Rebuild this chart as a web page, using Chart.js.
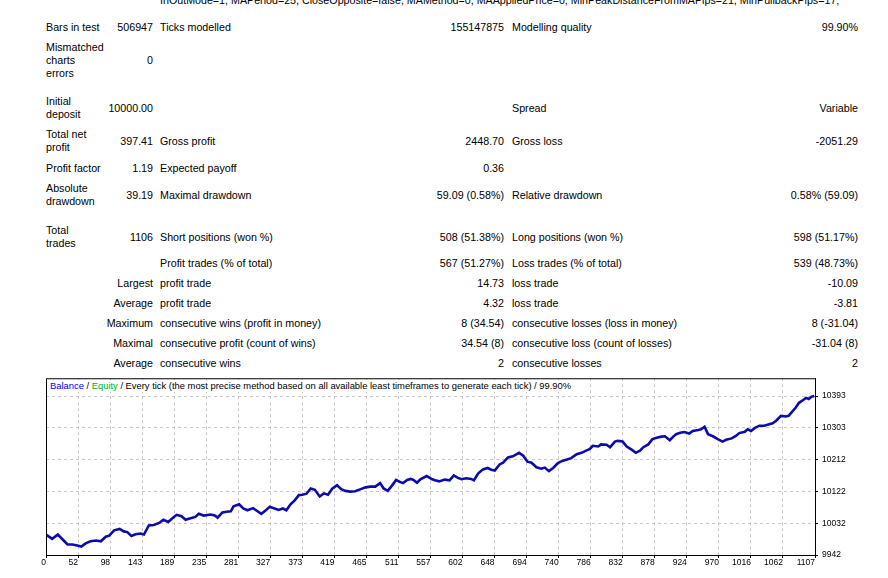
<!DOCTYPE html>
<html>
<head>
<meta charset="utf-8">
<script src="https://cdn.jsdelivr.net/npm/chart.js@4.4.1/dist/chart.umd.min.js"></script>
<style>
  html, body { margin: 0; padding: 0; background: #fff; }
  #page { position: relative; width: 888px; height: 578px; overflow: hidden;
          font-family: "Liberation Sans", Arial, sans-serif; font-size: 10.7px; color: #000; }
  .t { position: absolute; line-height: 13px; white-space: nowrap; }
  #chartBox { position: absolute; left: 0; top: 370px; width: 888px; height: 208px; }
  #caption { position: absolute; left: 49px; top: 380px; font-size: 9.4px; line-height: 12px;
             background: #fff; padding: 0 2px 0 1px; white-space: nowrap; z-index: 2; }
</style>
</head>
<body>
<div id="page">
  <div id="chartBox"><canvas id="balanceChart" width="888" height="208"></canvas></div>
  <div id="caption"><span style="color:#0000ff">Balance</span> / <span style="color:#00b000">Equity</span> / Every tick (the most precise method based on all available least timeframes to generate each tick) / 99.90%</div>
</div>
<script>
// balance curve (trade number -> balance)
const tradeNo = [
  0, 9, 17, 24, 31, 38, 45, 51, 57, 64, 72, 79, 86, 91, 98, 106, 112, 117, 123, 129,
  136, 141, 148, 155, 163, 169, 176, 182, 188, 195, 201, 208, 215, 220, 227, 237, 243, 247, 254, 260,
  266, 270, 278, 284, 290, 298, 304, 310, 316, 322, 328, 335, 341, 346, 352, 358, 364, 369, 375, 381,
  387, 394, 400, 406, 412, 419, 425, 431, 438, 445, 453, 460, 467, 474, 481, 486, 492, 498, 504, 510,
  514, 520, 525, 529, 534, 539, 548, 556, 560, 566, 574, 581, 587, 593, 598, 605, 612, 616, 622, 629,
  636, 641, 646, 653, 658, 665, 672, 681, 687, 693, 699, 706, 713, 718, 724, 730, 737, 743, 750, 756,
  764, 771, 776, 783, 787, 795, 799, 807, 812, 819, 823, 830, 836, 843, 849, 855, 860, 867, 873, 879,
  886, 891, 898, 903, 907, 913, 919, 926, 931, 939, 943, 948, 953, 960, 967, 974, 979, 987, 993, 998,
  1006, 1010, 1015, 1020, 1027, 1034, 1041, 1046, 1051, 1058, 1065, 1069, 1073, 1079, 1084, 1090, 1094, 1098, 1102, 1106
];
const balance = [
  10000, 9988, 10000, 9986, 9972, 9972, 9969, 9966, 9975, 9981, 9983, 9981, 9994, 9997, 10012, 10016, 10009, 10007, 9996, 10001,
  10003, 10000, 10026, 10027, 10033, 10042, 10036, 10046, 10056, 10052, 10042, 10046, 10050, 10059, 10054, 10057, 10054, 10048, 10063, 10065,
  10066, 10080, 10086, 10074, 10069, 10075, 10067, 10059, 10068, 10079, 10075, 10070, 10074, 10069, 10086, 10097, 10112, 10113, 10116, 10131,
  10127, 10108, 10117, 10113, 10130, 10140, 10129, 10124, 10122, 10123, 10129, 10134, 10136, 10136, 10146, 10131, 10124, 10139, 10155, 10149,
  10146, 10155, 10158, 10155, 10147, 10157, 10166, 10157, 10154, 10151, 10156, 10154, 10168, 10161, 10157, 10160, 10158, 10154, 10173, 10185,
  10189, 10184, 10182, 10199, 10204, 10219, 10222, 10232, 10224, 10207, 10204, 10191, 10187, 10190, 10180, 10189, 10203, 10209, 10213, 10217,
  10228, 10232, 10237, 10243, 10252, 10250, 10256, 10255, 10248, 10264, 10266, 10264, 10250, 10241, 10232, 10238, 10248, 10256, 10271, 10275,
  10278, 10279, 10268, 10278, 10285, 10289, 10291, 10287, 10294, 10297, 10299, 10306, 10285, 10279, 10271, 10264, 10269, 10273, 10280, 10288,
  10292, 10299, 10294, 10302, 10309, 10309, 10313, 10316, 10323, 10337, 10335, 10337, 10346, 10360, 10374, 10382, 10388, 10385, 10391, 10393
];

// axis labels as printed by the tester
const xTickLabels = ['0', '52', '98', '143', '189', '235', '281', '327', '373', '419', '465', '511', '557',
  '602', '648', '694', '740', '786', '832', '878', '924', '970', '1016', '1062', '1107'];
const yTickLabels = [9942, 10032, 10122, 10212, 10303, 10393];
const xMax = 1107;
const yMin = 9942;
const yMax = 10443.7;

// report table: [text, x, yCenter, align]  (align 'r' = right edge at x)
const headerLine = 'InOutMode=1, MAPeriod=25, CloseOpposite=false, MAMethod=0, MAAppliedPrice=0, MinPeakDistanceFromMAPips=21, MinPullbackPips=17;';
const reportCells = [
  [headerLine, 160, 0, 'l'],
  ['Bars in test', 46, 27, 'l'], ['506947', 153, 27, 'r'], ['Ticks modelled', 160, 27, 'l'],
  ['155147875', 504, 27, 'r'], ['Modelling quality', 512, 27, 'l'], ['99.90%', 858, 27, 'r'],
  ['Mismatched\ncharts\nerrors', 46, 60, 'l'], ['0', 153, 60, 'r'],
  ['Initial\ndeposit', 46, 108, 'l'], ['10000.00', 153, 108, 'r'], ['Spread', 512, 108, 'l'], ['Variable', 858, 108, 'r'],
  ['Total net\nprofit', 46, 141, 'l'], ['397.41', 153, 141, 'r'], ['Gross profit', 160, 141, 'l'],
  ['2448.70', 504, 141, 'r'], ['Gross loss', 512, 141, 'l'], ['-2051.29', 858, 141, 'r'],
  ['Profit factor', 46, 168, 'l'], ['1.19', 153, 168, 'r'], ['Expected payoff', 160, 168, 'l'], ['0.36', 504, 168, 'r'],
  ['Absolute\ndrawdown', 46, 195, 'l'], ['39.19', 153, 195, 'r'], ['Maximal drawdown', 160, 195, 'l'],
  ['59.09 (0.58%)', 504, 195, 'r'], ['Relative drawdown', 512, 195, 'l'], ['0.58% (59.09)', 858, 195, 'r'],
  ['Total\ntrades', 46, 237, 'l'], ['1106', 153, 237, 'r'], ['Short positions (won %)', 160, 237, 'l'],
  ['508 (51.38%)', 504, 237, 'r'], ['Long positions (won %)', 512, 237, 'l'], ['598 (51.17%)', 858, 237, 'r'],
  ['Profit trades (% of total)', 160, 263, 'l'], ['567 (51.27%)', 504, 263, 'r'],
  ['Loss trades (% of total)', 512, 263, 'l'], ['539 (48.73%)', 858, 263, 'r'],
  ['Largest', 153, 283, 'r'], ['profit trade', 160, 283, 'l'], ['14.73', 504, 283, 'r'], ['loss trade', 512, 283, 'l'], ['-10.09', 858, 283, 'r'],
  ['Average', 153, 303, 'r'], ['profit trade', 160, 303, 'l'], ['4.32', 504, 303, 'r'], ['loss trade', 512, 303, 'l'], ['-3.81', 858, 303, 'r'],
  ['Maximum', 153, 323, 'r'], ['consecutive wins (profit in money)', 160, 323, 'l'], ['8 (34.54)', 504, 323, 'r'],
  ['consecutive losses (loss in money)', 512, 323, 'l'], ['8 (-31.04)', 858, 323, 'r'],
  ['Maximal', 153, 343, 'r'], ['consecutive profit (count of wins)', 160, 343, 'l'], ['34.54 (8)', 504, 343, 'r'],
  ['consecutive loss (count of losses)', 512, 343, 'l'], ['-31.04 (8)', 858, 343, 'r'],
  ['Average', 153, 363, 'r'], ['consecutive wins', 160, 363, 'l'], ['2', 504, 363, 'r'],
  ['consecutive losses', 512, 363, 'l'], ['2', 858, 363, 'r']
];

const page = document.getElementById('page');
reportCells.forEach(([text, x, yc, align]) => {
  const lines = text.split('\n');
  const el = document.createElement('div');
  el.className = 't';
  el.innerHTML = lines.join('<br>');
  el.style.top = (yc - lines.length * 13 / 2) + 'px';
  if (align === 'r') {
    el.style.right = (888 - x) + 'px';
    el.style.textAlign = 'right';
  } else {
    el.style.left = x + 'px';
  }
  page.appendChild(el);
});

// plot frame (top and left edges, the axes draw bottom and right)
const framePlugin = {
  id: 'frame',
  afterDraw(chart) {
    const { ctx, chartArea: a } = chart;
    ctx.save();
    ctx.strokeStyle = '#000';
    ctx.lineWidth = 1;
    ctx.beginPath();
    ctx.moveTo(a.left + 0.5, a.bottom + 0.5);
    ctx.lineTo(a.left + 0.5, a.top + 0.5);
    ctx.lineTo(a.right + 0.5, a.top + 0.5);
    ctx.stroke();
    ctx.restore();
  }
};

const axisFont = { family: '"Liberation Sans", Arial, sans-serif', size: 8.5, lineHeight: 1 };

new Chart(document.getElementById('balanceChart'), {
  type: 'line',
  data: {
    datasets: [{
      label: 'Balance',
      data: tradeNo.map((t, i) => ({ x: t, y: balance[i] })),
      borderColor: '#0c0cad',
      borderWidth: 2.6,
      pointRadius: 0,
      tension: 0,
      fill: false
    }]
  },
  options: {
    responsive: false,
    animation: false,
    devicePixelRatio: 1,
    layout: { padding: { left: 46, top: 7, right: 0, bottom: 0 } },
    plugins: { legend: { display: false }, tooltip: { enabled: false } },
    scales: {
      x: {
        type: 'linear',
        min: 0,
        max: xMax,
        afterBuildTicks: (scale) => {
          scale.ticks = xTickLabels.map((l, i) => ({ value: i * xMax / (xTickLabels.length - 1) }));
        },
        afterFit: (scale) => { scale.height = 23; },
        grid: { color: '#c8c8c8', tickColor: '#000', tickLength: 3 },
        border: { color: '#000', dash: [3, 3] },
        ticks: {
          align: 'end',
          padding: 0,
          color: '#000',
          font: axisFont,
          maxRotation: 0,
          autoSkip: false,
          callback: (v, i) => xTickLabels[i]
        }
      },
      y: {
        position: 'right',
        min: yMin,
        max: yMax,
        afterBuildTicks: (scale) => {
          scale.ticks = yTickLabels.map(v => ({ value: v }));
        },
        afterFit: (scale) => { scale.width = 73; },
        grid: { color: '#c8c8c8', tickColor: '#000', tickLength: 3 },
        border: { color: '#000', dash: [3, 3] },
        ticks: {
          padding: 4,
          color: '#000',
          font: axisFont,
          autoSkip: false,
          callback: (v) => String(v)
        }
      }
    }
  },
  plugins: [framePlugin]
});
</script>
</body>
</html>
